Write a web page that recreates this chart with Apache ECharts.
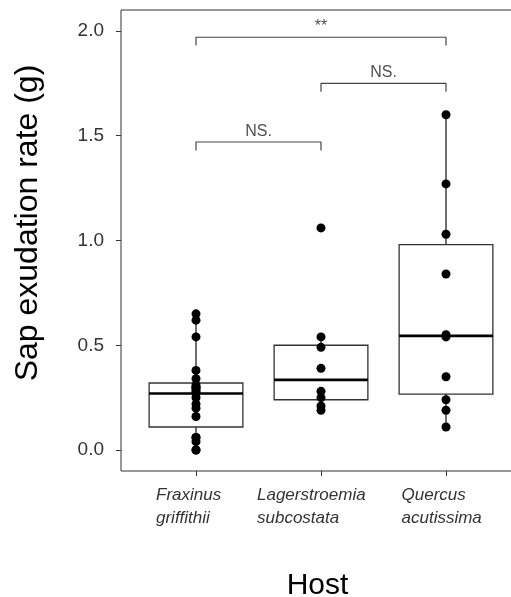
<!DOCTYPE html>
<html>
<head>
<meta charset="utf-8">
<script src="https://cdn.jsdelivr.net/npm/echarts@6/dist/echarts.min.js"></script>
<style>html,body{margin:0;padding:0;background:#fff;}#c{width:511px;height:597px;}</style>
</head>
<body>
<div id="c"></div>
<script>
// ---- data ----
const genus = ['Fraxinus', 'Lagerstroemia', 'Quercus'];
const species = ['griffithii', 'subcostata', 'acutissima'];
const fraxinus = [0.65, 0.62, 0.54, 0.38, 0.34, 0.31, 0.30, 0.30, 0.29, 0.28, 0.27, 0.25, 0.22, 0.20, 0.16, 0.06, 0.06, 0.04, 0.00, 0.00];
const lagerstroemia = [1.06, 0.54, 0.49, 0.39, 0.28, 0.25, 0.21, 0.19];
const quercus = [1.60, 1.27, 1.03, 0.84, 0.55, 0.54, 0.35, 0.24, 0.19, 0.11];
// box stats: [lower whisker, Q1, median, Q3, upper whisker]
const boxFraxinus = [0.00, 0.11, 0.27, 0.32, 0.65];
const boxLagerstroemia = [0.19, 0.24, 0.335, 0.50, 0.54];
const boxQuercus = [0.11, 0.267, 0.545, 0.98, 1.60];
const yTicks = [0, 0.5, 1.0, 1.5, 2.0];
const xTicks = [1, 2, 3];
// significance comparisons: [from group, to group, label, bracket level]
const comparisons = [[1, 2, 'NS.', 1.47], [2, 3, 'NS.', 1.75], [1, 3, '**', 1.97]];

const groups = [fraxinus, lagerstroemia, quercus];
const boxes = [boxFraxinus, boxLagerstroemia, boxQuercus];
const FONT = 'Liberation Sans, Arial, Helvetica, sans-serif';
const richKeys = ['f', 'l', 'q'];
const richWidths = [80, 128, 89];
const rich = {};
richKeys.forEach((k, i) => {
  rich[k] = { width: richWidths[i], align: 'left', fontSize: 17, fontStyle: 'italic', color: '#333', fontFamily: FONT, lineHeight: 23 };
});

const chart = echarts.init(document.getElementById('c'), null, { renderer: 'canvas' });

const series = [];
series.push({
  type: 'custom',
  silent: true,
  data: boxes.map((b, i) => [i + 1].concat(b)),
  renderItem: function (params, api) {
    const x = api.value(0);
    const pMin = api.coord([x, api.value(1)]);
    const pQ1 = api.coord([x, api.value(2)]);
    const pMed = api.coord([x, api.value(3)]);
    const pQ3 = api.coord([x, api.value(4)]);
    const pMax = api.coord([x, api.value(5)]);
    const hw = api.size([0.375, 0])[0];
    const wStyle = { stroke: '#222', lineWidth: 1.3 };
    return {
      type: 'group',
      children: [
        { type: 'line', shape: { x1: pMin[0], y1: pMin[1], x2: pQ1[0], y2: pQ1[1] }, style: wStyle },
        { type: 'line', shape: { x1: pQ3[0], y1: pQ3[1], x2: pMax[0], y2: pMax[1] }, style: wStyle },
        { type: 'rect', shape: { x: pQ1[0] - hw, y: pQ3[1], width: 2 * hw, height: pQ1[1] - pQ3[1] }, style: { fill: 'rgba(255,255,255,0)', stroke: '#333', lineWidth: 1.3 } },
        { type: 'line', shape: { x1: pMed[0] - hw, y1: pMed[1], x2: pMed[0] + hw, y2: pMed[1] }, style: { stroke: '#000', lineWidth: 2.6 } }
      ]
    };
  },
  z: 2
});

comparisons.forEach(c => {
  const drop = 0.04;
  series.push({
    type: 'line',
    silent: true,
    symbol: 'none',
    data: [[c[0], c[3] - drop], [c[0], c[3]], [c[1], c[3]], [c[1], c[3] - drop]],
    lineStyle: { color: '#444', width: 1.2 },
    z: 2
  });
});

series.push({
  type: 'scatter',
  silent: true,
  symbolSize: 1,
  itemStyle: { color: 'rgba(0,0,0,0)' },
  data: comparisons.map(c => [(c[0] + c[1]) / 2, c[3], c[2]]),
  label: {
    show: true,
    position: 'top',
    distance: 2,
    formatter: p => p.value[2],
    fontSize: 16,
    color: '#222',
    fontFamily: FONT
  },
  z: 3
});

groups.forEach((g, i) => {
  series.push({
    type: 'scatter',
    silent: true,
    symbol: 'circle',
    symbolSize: 9,
    itemStyle: { color: '#000', opacity: 1 },
    data: g.map(v => [i + 1, v]),
    z: 4
  });
});

chart.setOption({
  animation: false,
  backgroundColor: '#fff',
  grid: { left: 121, top: 10, right: -3, bottom: 126, show: true, borderColor: '#333', borderWidth: 1, backgroundColor: 'rgba(0,0,0,0)', outerBoundsMode: 'none', containLabel: false },
  xAxis: {
    type: 'value',
    min: 0.4,
    max: 3.544,
    splitLine: { show: false },
    axisLine: { show: false, onZero: false },
    axisTick: { show: true, customValues: xTicks, length: 5, lineStyle: { color: '#333', width: 1 } },
    axisLabel: {
      customValues: xTicks,
      margin: 13,
      formatter: function (v) {
        const i = Math.round(v) - 1;
        const k = richKeys[i];
        return '{' + k + '|' + genus[i] + '}\n{' + k + '|' + species[i] + '}';
      },
      rich: rich,
      fontSize: 17,
      fontStyle: 'italic',
      lineHeight: 23,
      color: '#333',
      fontFamily: FONT
    },
    name: 'Host',
    nameLocation: 'middle',
    nameGap: 100,
    nameTextStyle: { fontSize: 30, color: '#000', fontFamily: FONT }
  },
  yAxis: {
    type: 'value',
    min: -0.1,
    max: 2.1,
    splitLine: { show: false },
    axisLine: { show: false, onZero: false },
    axisTick: { show: true, customValues: yTicks, length: 5, lineStyle: { color: '#333', width: 1 } },
    axisLabel: {
      customValues: yTicks,
      formatter: v => v.toFixed(1),
      fontSize: 19,
      color: '#333',
      margin: 17,
      fontFamily: FONT
    }
  },
  graphic: [{
    type: 'text',
    x: 28,
    y: 223,
    rotation: Math.PI / 2,
    style: { text: 'Sap exudation rate (g)', fontSize: 32, fill: '#000', align: 'center', verticalAlign: 'middle', fontFamily: FONT }
  }],
  series: series
});
</script>
</body>
</html>
